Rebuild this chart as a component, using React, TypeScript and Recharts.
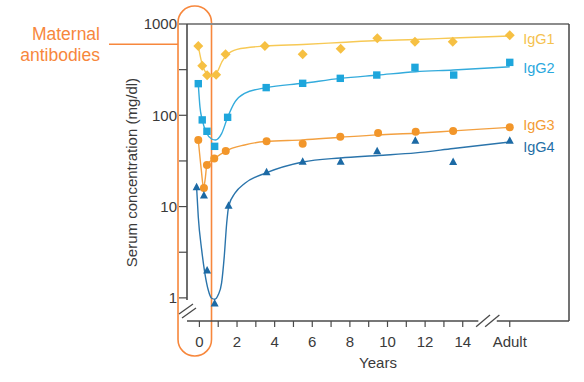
import React from 'react';
import {
  ComposedChart,
  Line,
  Scatter,
  XAxis,
  YAxis,
  ReferenceLine,
  ReferenceArea,
  LabelList,
} from 'recharts';

// ---------- data ----------
const seriesNames = ['IgG1', 'IgG2', 'IgG3', 'IgG4'];

// measured points (years; 16.5 = "Adult")
const igg1PointYears = [-0.06, 0.15, 0.41, 0.89, 1.39, 3.48, 5.49, 7.51, 9.46, 11.46, 13.47, 16.5];
const igg1PointValues = [574, 349, 274, 278, 466, 574, 466, 536, 697, 640, 640, 752];

const igg2PointYears = [-0.06, 0.15, 0.4, 0.81, 1.5, 3.55, 5.49, 7.49, 9.43, 11.46, 13.52, 16.5];
const igg2PointValues = [222, 89, 66.8, 45.7, 95, 201, 224, 254, 276, 335, 276, 380];

const igg3PointYears = [-0.06, 0.24, 0.4, 0.79, 1.4, 3.57, 5.49, 7.49, 9.5, 11.5, 13.49, 16.5];
const igg3PointValues = [53.6, 16.0, 28.6, 33.6, 40.6, 51.9, 48.9, 58.3, 64, 66.1, 67.2, 73.9];

const igg4PointYears = [-0.15, 0.24, 0.41, 0.81, 1.55, 3.57, 5.49, 7.51, 9.45, 11.48, 13.49, 16.5];
const igg4PointValues = [16.3, 13.2, 2.0, 0.87, 10.2, 23.7, 31.0, 31.0, 40.3, 52.6, 30.8, 52.6];

// fitted curves
const igg1CurveYears = [-0.06, 0.15, 0.4, 0.7, 1.0, 1.2, 1.45, 2, 3.5, 5.5, 7.5, 9.5, 11.5, 13.5, 16.5];
const igg1CurveValues = [574, 360, 285, 265, 313, 387, 455, 528, 574, 596, 627, 660, 676, 703, 739];

const igg2CurveYears = [-0.06, 0.03, 0.15, 0.38, 0.65, 0.85, 1.18, 1.5, 1.9, 2.4, 3.55, 5.5, 7.5, 9.5, 11.5, 13.5, 16.5];
const igg2CurveValues = [222, 123, 89, 64, 55, 53.6, 63, 95, 141, 174, 201, 224, 254, 276, 300, 313, 340];

const igg3CurveYears = [-0.06, 0.1, 0.22, 0.3, 0.4, 0.8, 1.4, 2.4, 3.5, 5.5, 7.5, 9.5, 11.5, 13.5, 16.5];
const igg3CurveValues = [53.6, 25.2, 16, 19.5, 28.6, 33.6, 40.6, 47.3, 51.6, 53.8, 57.4, 61, 63.6, 67.5, 73.8];

const igg4CurveYears = [-0.15, -0.06, 0.12, 0.29, 0.47, 0.65, 0.82, 1.0, 1.18, 1.32, 1.45, 1.56, 1.89, 2.42, 3.57, 5.5, 7.5, 9.5, 11.5, 13.5, 16.5];
const igg4CurveValues = [16.3, 7.7, 3.35, 1.86, 1.22, 0.99, 0.966, 1.08, 1.46, 2.83, 6.56, 10.2, 14, 18, 23.5, 30.8, 34.1, 36.3, 38.7, 43.3, 51];

const yTicks = [1, 3.162, 10, 31.62, 100, 316.2, 1000];
const yTickLabels = ['1', '', '10', '', '100', '', '1000'];
const xTicks = [0, 1, 2, 3, 4, 5, 6, 7, 8, 9, 10, 11, 12, 13, 14, 16.5];
const xTickLabels = ['0', '', '2', '', '4', '', '6', '', '8', '', '10', '', '12', '', '14', 'Adult'];
const annotationText = ['Maternal', 'antibodies'];
const yAxisTitle = 'Serum concentration (mg/dl)';
const xAxisTitle = 'Years';

// ---------- helpers ----------
const zip = (xs: number[], ys: number[]) => xs.map((x, i) => ({ x, y: ys[i] }));

const X_MIN = -0.66;
const X_MAX = 19.65;
const Y_MIN = 0.558;
const Y_MAX = 1000;

const FONT = '"Liberation Sans", Arial, Helvetica, sans-serif';
const AXIS_COLOR = '#4a4a4a';
const TEXT_COLOR = '#3a3a3a';
const ORANGE = '#f7873c';

const series = [
  {
    name: seriesNames[0],
    points: zip(igg1PointYears, igg1PointValues),
    curve: zip(igg1CurveYears, igg1CurveValues),
    color: '#f6c043',
    line: '#f7c955',
    text: '#f5c24f',
    marker: 'diamond',
    dy: 3,
  },
  {
    name: seriesNames[1],
    points: zip(igg2PointYears, igg2PointValues),
    curve: zip(igg2CurveYears, igg2CurveValues),
    color: '#1ea6dc',
    line: '#33abdc',
    text: '#2aa8dd',
    marker: 'square',
    dy: 1,
  },
  {
    name: seriesNames[2],
    points: zip(igg3PointYears, igg3PointValues),
    curve: zip(igg3CurveYears, igg3CurveValues),
    color: '#f2962a',
    line: '#f3a040',
    text: '#f39c35',
    marker: 'circle',
    dy: -2,
  },
  {
    name: seriesNames[3],
    points: zip(igg4PointYears, igg4PointValues),
    curve: zip(igg4CurveYears, igg4CurveValues),
    color: '#1c6aa5',
    line: '#2a74ab',
    text: '#1f6fa6',
    marker: 'triangle',
    dy: 5,
  },
];

const makeShape = (kind: string, color: string) => (props: any) => {
  const { cx, cy } = props;
  if (cx == null || cy == null) return <g />;
  if (kind === 'diamond') {
    return (
      <polygon
        points={`${cx},${cy - 5} ${cx + 5},${cy} ${cx},${cy + 5} ${cx - 5},${cy}`}
        fill={color}
      />
    );
  }
  if (kind === 'square') {
    return <rect x={cx - 3.7} y={cy - 3.7} width={7.4} height={7.4} fill={color} />;
  }
  if (kind === 'circle') {
    return <circle cx={cx} cy={cy} r={4} fill={color} />;
  }
  return (
    <polygon
      points={`${cx},${cy - 4.5} ${cx + 4},${cy + 3} ${cx - 4},${cy + 3}`}
      fill={color}
    />
  );
};

const AnnotationShape = (props: any) => {
  const { x, y, width, height } = props;
  return (
    <g>
      <rect
        x={x}
        y={y}
        width={width}
        height={height}
        rx={16.5}
        ry={16.5}
        fill="none"
        stroke={ORANGE}
        strokeWidth={1.6}
      />
      <line x1={x - 69} y1={y + 38.3} x2={x} y2={y + 38.3} stroke={ORANGE} strokeWidth={1.4} />
      {annotationText.map((t, i) => (
        <text
          key={t}
          x={x - 78}
          y={y + 27.5 + i * 21}
          textAnchor="end"
          dominantBaseline="central"
          fill={ORANGE}
          fontSize={17.5}
          fontFamily={FONT}
        >
          {t}
        </text>
      ))}
    </g>
  );
};

const seg = (x1: number, y1: number, x2: number, y2: number) => [
  { x: x1, y: y1 },
  { x: x2, y: y2 },
];

export default function App() {
  return (
    <div style={{ position: 'absolute', left: 0, top: 0, background: '#fff' }}>
      <ComposedChart
        width={584}
        height={382}
        margin={{ top: 24, right: 15, bottom: 31, left: 127 }}
        style={{ fontFamily: FONT }}
      >
        <XAxis
          type="number"
          dataKey="x"
          domain={[X_MIN, X_MAX]}
          ticks={xTicks}
          interval={0}
          allowDataOverflow
          axisLine={false}
          tickLine={{ stroke: AXIS_COLOR, strokeWidth: 1.2 }}
          tickSize={6}
          tickMargin={9}
          height={30}
          tick={{ fill: TEXT_COLOR, fontSize: 15, fontFamily: FONT }}
          tickFormatter={(v: number) => {
            const i = xTicks.indexOf(v);
            return i >= 0 ? xTickLabels[i] : '';
          }}
          label={{
            content: (p: any) => {
              const vb = p.viewBox || {};
              return (
                <text
                  x={vb.x + vb.width / 2}
                  y={vb.y + 41.7}
                  textAnchor="middle"
                  dominantBaseline="central"
                  fill={TEXT_COLOR}
                  fontSize={15}
                  fontFamily={FONT}
                >
                  {xAxisTitle}
                </text>
              );
            },
          }}
        />
        <YAxis
          type="number"
          scale="log"
          domain={[Y_MIN, Y_MAX]}
          allowDataOverflow
          ticks={yTicks}
          interval={0}
          width={60}
          axisLine={false}
          tickLine={{ stroke: AXIS_COLOR, strokeWidth: 1.2 }}
          tickSize={8}
          tickMargin={2}
          tick={{ fill: TEXT_COLOR, fontSize: 15, fontFamily: FONT }}
          tickFormatter={(v: number) => {
            const i = yTicks.indexOf(v);
            return i >= 0 ? yTickLabels[i] : '';
          }}
          label={{
            content: (p: any) => {
              const vb = p.viewBox || {};
              const cx = vb.x + 4.7;
              const cy = vb.y + vb.height / 2;
              return (
                <text
                  x={cx}
                  y={cy}
                  transform={`rotate(-90 ${cx} ${cy})`}
                  textAnchor="middle"
                  dominantBaseline="central"
                  fill={TEXT_COLOR}
                  fontSize={15}
                  fontFamily={FONT}
                >
                  {yAxisTitle}
                </text>
              );
            },
          }}
        />

        {/* frame and broken axes */}
        <ReferenceLine segment={seg(X_MIN, Y_MAX, X_MAX, Y_MAX)} stroke="#8c8c8c" strokeWidth={2} ifOverflow="visible" />
        <ReferenceLine segment={seg(X_MAX, Y_MIN, X_MAX, Y_MAX)} stroke="#444" strokeWidth={1.5} ifOverflow="visible" />
        <ReferenceLine segment={seg(X_MIN, 0.95, X_MIN, Y_MAX)} stroke={AXIS_COLOR} strokeWidth={1.6} ifOverflow="visible" />
        <ReferenceLine segment={seg(X_MIN, Y_MIN, 14.83, Y_MIN)} stroke={AXIS_COLOR} strokeWidth={1.6} ifOverflow="visible" />
        <ReferenceLine segment={seg(15.81, Y_MIN, X_MAX, Y_MIN)} stroke={AXIS_COLOR} strokeWidth={1.6} ifOverflow="visible" />
        <ReferenceLine segment={seg(14.71, 0.484, 15.45, 0.65)} stroke={AXIS_COLOR} strokeWidth={1.3} ifOverflow="visible" />
        <ReferenceLine segment={seg(15.19, 0.484, 15.95, 0.65)} stroke={AXIS_COLOR} strokeWidth={1.3} ifOverflow="visible" />
        <ReferenceLine segment={seg(-1.085, 0.667, -0.34, 0.857)} stroke={AXIS_COLOR} strokeWidth={1.3} ifOverflow="visible" />
        <ReferenceLine segment={seg(-0.925, 0.603, -0.18, 0.776)} stroke={AXIS_COLOR} strokeWidth={1.3} ifOverflow="visible" />

        {series.map((s) => (
          <Line
            key={`line-${s.name}`}
            data={s.curve}
            dataKey="y"
            type="monotone"
            stroke={s.line}
            strokeWidth={1.4}
            dot={false}
            activeDot={false}
            isAnimationActive={false}
          >
            <LabelList
              dataKey="y"
              content={(p: any) => {
                if (p.index !== s.curve.length - 1) return null;
                return (
                  <text
                    x={p.x + 13.5}
                    y={p.y + s.dy}
                    dominantBaseline="central"
                    fill={s.text}
                    fontSize={14.5}
                    fontFamily={FONT}
                  >
                    {s.name}
                  </text>
                );
              }}
            />
          </Line>
        ))}
        {series.map((s) => (
          <Scatter
            key={`pts-${s.name}`}
            data={s.points}
            dataKey="y"
            fill={s.color}
            shape={makeShape(s.marker, s.color)}
            isAnimationActive={false}
          />
        ))}

        <ReferenceArea
          x1={-1.138}
          x2={0.643}
          y1={0.231}
          y2={1574}
          ifOverflow="visible"
          shape={(p: any) => <AnnotationShape {...p} />}
        />
      </ComposedChart>
    </div>
  );
}
